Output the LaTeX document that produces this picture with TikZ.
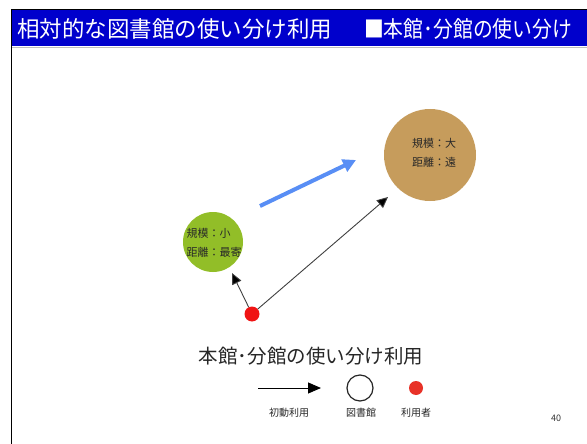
\documentclass[tikz,border=0pt]{standalone}
\usepackage{fontspec}
\setmainfont{Noto Sans CJK JP}
\usetikzlibrary{arrows.meta}
\definecolor{titleblue}{RGB}{0,0,204}
\definecolor{smallgreen}{RGB}{146,190,40}
\definecolor{bigbrown}{RGB}{198,156,92}
\definecolor{userred}{RGB}{240,20,20}
\definecolor{legred}{RGB}{232,50,40}
\definecolor{movearrow}{RGB}{88,142,245}
\definecolor{txtgray}{RGB}{40,40,40}
\tikzset{
  lib/.style={circle, inner sep=0pt, minimum size=#1},
  circtext/.style={font=\fontsize{11}{19.5}\selectfont, text=txtgray, align=left},
  usearrow/.style={draw=black!75, line width=0.9pt, -{Triangle[length=11pt,width=10pt,fill=black]}},
  legtext/.style={font=\fontsize{10}{12}\selectfont, text=txtgray},
  titletext/.style={text=white, font=\fontsize{22.5}{26}\selectfont, inner sep=0pt, anchor=west}
}
\begin{document}
\begin{tikzpicture}[x=1pt,y=-1pt]
\useasboundingbox (0,0) rectangle (587,444);
\fill[white] (0,0) rectangle (587,444);
% frame and title bar
\fill[titleblue] (12,10) rectangle (587,46);
\draw[black, line width=1.5pt] (11.5,444) -- (11.5,9.5) -- (587,9.5);
\draw[black!25, line width=0.8pt] (12,47) -- (587,47);
\node[titletext] (title) at (17,28.5) {相対的な図書館の使い分け利用};
\node[titletext, xscale=0.88] (subtitle) at (364,28.5) {■本館･分館の使い分け};
% circles
\node[lib=60pt, fill=smallgreen] (small) at (213,242) {};
\node[circtext] (smalltxt) at (214,243) {規模：小\\距離：最寄};
\node[lib=92pt, fill=bigbrown] (big) at (430,155) {};
\node[circtext] (bigtxt) at (434,153) {規模：大\\距離：遠};
\node[lib=15pt, fill=userred] (user) at (252,314) {};
% arrows
\coordinate (tipsmall) at (232,273);
\coordinate (tipbig) at (388,197);
\draw[usearrow] (user) -- (tipsmall);
\draw[usearrow] (user) -- (tipbig);
\coordinate (bluestart) at (260,206);
\coordinate (blueend) at (356,160);
\draw[movearrow, line width=4pt, -{Triangle[length=13pt,width=13pt]}] (bluestart) -- (blueend);
% caption
\node[font=\fontsize{19.5}{22}\selectfont, text=black!85] (caption) at (311,356) {本館･分館の使い分け利用};
% legend
\coordinate (legA) at (258,388);
\coordinate (legB) at (321,388);
\draw[line width=1pt, -{Triangle[length=13pt,width=11pt]}] (legA) -- (legB);
\node[lib=26pt, draw=black!85, line width=1.2pt, fill=white] (leglib) at (360,388) {};
\node[lib=14pt, fill=legred] (leguser) at (416,388) {};
\node[legtext] (l1) at (289,413) {初動利用};
\node[legtext] (l2) at (361,413) {図書館};
\node[legtext] (l3) at (416,413) {利用者};
\node[font=\fontsize{9}{11}\selectfont, text=black!80] (pagenum) at (556,418) {40};
\end{tikzpicture}
\end{document}
